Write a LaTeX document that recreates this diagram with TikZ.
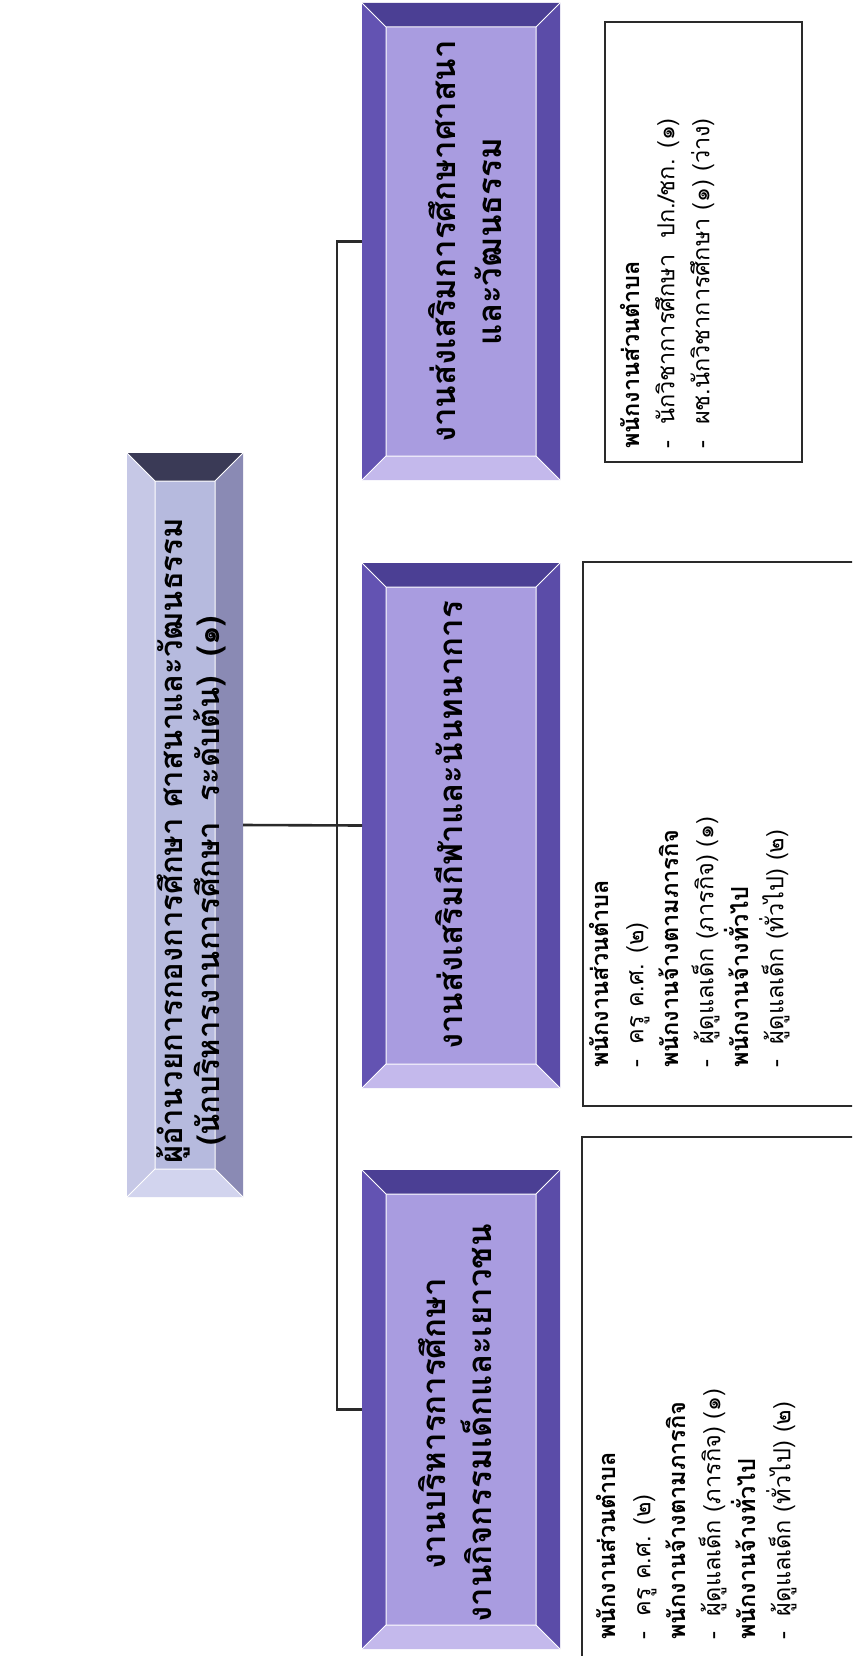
\documentclass[tikz,border=0pt]{standalone}
\usepackage{fontspec}
\setmainfont[Script=Thai]{Loma}
\usetikzlibrary{calc}
\definecolor{hdtop}{HTML}{3A3A56}
\definecolor{hdright}{HTML}{8A8AB4}
\definecolor{hdbottom}{HTML}{D2D4EE}
\definecolor{hdleft}{HTML}{C6C8E6}
\definecolor{hdcenter}{HTML}{B6BADE}
\definecolor{sbtop}{HTML}{4B3F94}
\definecolor{sbright}{HTML}{5B4CA8}
\definecolor{sbbottom}{HTML}{C4B9EC}
\definecolor{sbleft}{HTML}{6353B2}
\definecolor{sbcenter}{HTML}{A99CE0}
\definecolor{inkline}{HTML}{2A2A2A}
\newcommand{\bevelrect}[6]{%
  \fill[#6top] (#1,#2) -- (#3,#2) -- (#3-#5,#2+#5) -- (#1+#5,#2+#5) -- cycle;
  \fill[#6right] (#3,#2) -- (#3,#4) -- (#3-#5,#4-#5) -- (#3-#5,#2+#5) -- cycle;
  \fill[#6bottom] (#1,#4) -- (#3,#4) -- (#3-#5,#4-#5) -- (#1+#5,#4-#5) -- cycle;
  \fill[#6left] (#1,#2) -- (#1,#4) -- (#1+#5,#4-#5) -- (#1+#5,#2+#5) -- cycle;
  \fill[#6center] (#1+#5,#2+#5) rectangle (#3-#5,#4-#5);
  \draw[white, line width=1pt] (#1+#5,#2+#5) rectangle (#3-#5,#4-#5)
     (#1,#2) -- (#1+#5,#2+#5) (#3,#2) -- (#3-#5,#2+#5)
     (#1,#4) -- (#1+#5,#4-#5) (#3,#4) -- (#3-#5,#4-#5);
}
\tikzset{
  hit/.style={inner sep=0pt, outer sep=0pt, draw=none, rectangle},
  conn/.style={draw=inkline, line width=2.6pt},
  staffbox/.style={draw=inkline, line width=2.2pt, rectangle, inner sep=0pt, outer sep=0pt},
  boxtext/.style={rotate=90, align=center, text=black, font=\fontsize{33}{46}\selectfont\bfseries},
  headtext/.style={rotate=90, align=left, text=black, font=\fontsize{31}{37}\selectfont\bfseries},
  stafftext/.style={rotate=90, align=left, anchor=north west, inner sep=0pt, text=black, font=\fontsize{23.5}{35}\selectfont}
}
\newcommand{\dashitem}[1]{-\hspace{16pt}#1}
\begin{document}
\begin{tikzpicture}[x=1pt, y=-1pt]
\useasboundingbox (0,0) rectangle (852,1656);
\clip (0,0) rectangle (852,1656);
\fill[white] (0,0) rectangle (852,1656);

% head box
\bevelrect{127}{453}{243}{1197}{28}{hd}
\node[hit, minimum width=116pt, minimum height=744pt] (head) at (185,825) {};
\node[headtext] (headt) at ($(head.center)+(6,16)$) {ผู้อำนวยการกองการศึกษา ศาสนาและวัฒนธรรม\\\hspace{18pt}(นักบริหารงานการศึกษา\hspace{10pt} ระดับต้น)\hspace{10pt} (๑)};

% sub boxes
\bevelrect{362}{3}{560}{480}{24}{sb}
\node[hit, minimum width=198pt, minimum height=477pt] (b3) at (461,241.5) {};
\node[boxtext] (b3t) at ($(b3.center)+(4,0)$) {งานส่งเสริมการศึกษาศาสนา\\และวัฒนธรรม};

\bevelrect{362}{563}{560}{1088}{24}{sb}
\node[hit, minimum width=198pt, minimum height=525pt] (b2) at (461,825.5) {};
\node[boxtext] (b2t) at ($(b2.center)+(-12,0)$) {งานส่งเสริมกีฬาและนันทนาการ};

\bevelrect{362}{1170}{560}{1649}{24}{sb}
\node[hit, minimum width=198pt, minimum height=479pt] (b1) at (461,1409.5) {};
\node[boxtext] (b1t) at ($(b1.center)+(-6,14)$) {งานบริหารการศึกษา\\งานกิจกรรมเด็กและเยาวชน};

% connectors
\coordinate (spine) at (337,0);
\draw[conn] (head.east) -- (b2.west);
\draw[conn] (b3.west) -- (b3.west -| spine) -- (b1.west -| spine) -- (b1.west);

% staff boxes
\node[staffbox, minimum width=197pt, minimum height=440pt] (sC) at (703.5,242) {};
\node[staffbox, minimum width=287pt, minimum height=544pt] (sB) at (726.5,834) {};
\node[staffbox, minimum width=288pt, minimum height=543pt] (sA) at (726,1408.5) {};

\node[stafftext] (sCt) at (620,449) {{\bfseries พนักงานส่วนตำบล}\\
\dashitem{นักวิชาการศึกษา \hspace{8pt}ปก./ชก. (๑)}\\
\dashitem{ผช.นักวิชาการศึกษา (๑) (ว่าง)}};

\node[stafftext] (sBt) at (589,1068) {{\bfseries พนักงานส่วนตำบล}\\
\dashitem{ครู ค.ศ. (๒)}\\
{\bfseries พนักงานจ้างตามภารกิจ}\\
\dashitem{ผู้ดูแลเด็ก (ภารกิจ)\hspace{8pt}(๑)}\\
{\bfseries พนักงานจ้างทั่วไป}\\
\dashitem{ผู้ดูแลเด็ก (ทั่วไป) (๒)}};

\node[stafftext] (sAt) at (596,1640) {{\bfseries พนักงานส่วนตำบล}\\
\dashitem{ครู ค.ศ. (๒)}\\
{\bfseries พนักงานจ้างตามภารกิจ}\\
\dashitem{ผู้ดูแลเด็ก (ภารกิจ)\hspace{8pt}(๑)}\\
{\bfseries พนักงานจ้างทั่วไป}\\
\dashitem{ผู้ดูแลเด็ก (ทั่วไป) (๒)}};
\end{tikzpicture}
\end{document}
